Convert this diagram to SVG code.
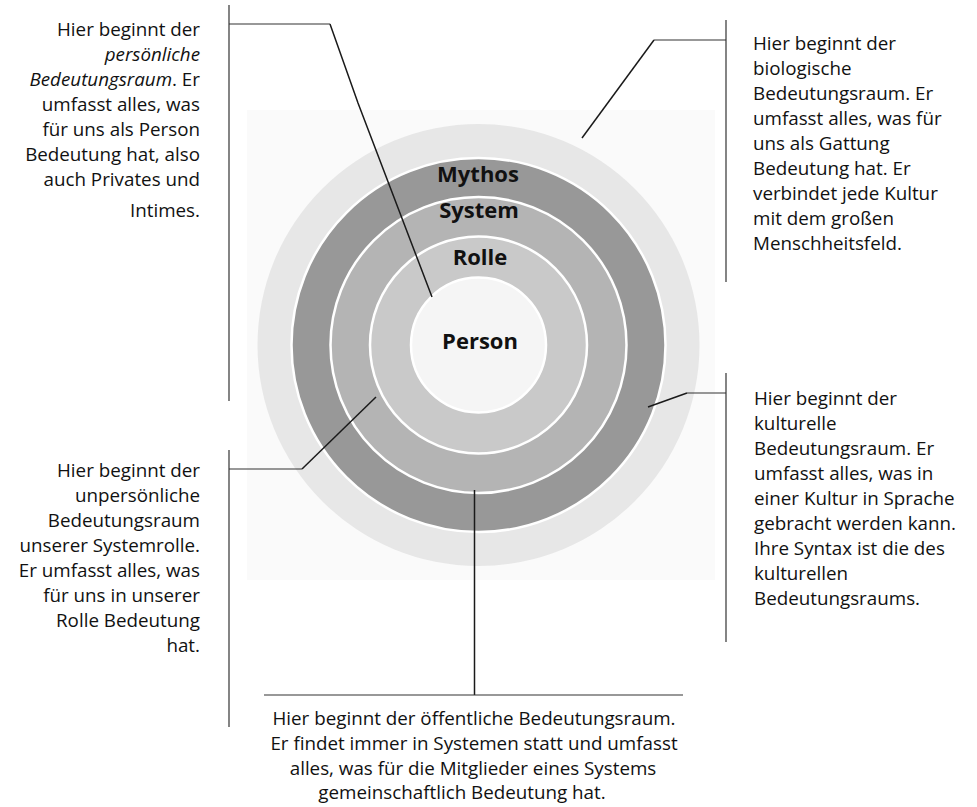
<svg xmlns="http://www.w3.org/2000/svg" width="977" height="807" viewBox="0 0 977 807">
<style>
.t{font-family:"Open Sans","Noto Sans","Liberation Sans",sans-serif;font-size:18.8px;fill:#111}
.r{text-anchor:end}
.c{text-anchor:middle}
.lab{font-family:"Open Sans","Liberation Sans",sans-serif;font-size:22px;font-weight:700;fill:#111;text-anchor:middle}
.ring{stroke:#fff;stroke-width:2.5}
.ln{fill:none;stroke:#333;stroke-width:1.2}
.dg{fill:none;stroke:#1a1a1a;stroke-width:1.5}
</style>
<rect width="977" height="807" fill="#fff"/>
<rect x="247" y="110" width="468" height="470" fill="#fafafa"/>
<g id="rings">
<circle id="outer" cx="478.5" cy="345" r="221" fill="#e7e7e7"/>
<circle id="mythos" class="ring" cx="478.5" cy="345" r="187" fill="#989898"/>
<circle id="system" class="ring" cx="478.5" cy="345" r="148" fill="#b4b4b4"/>
<circle id="rolle" class="ring" cx="478.5" cy="345" r="108.5" fill="#c9c9c9"/>
<circle id="person" class="ring" cx="478.5" cy="345" r="67.5" fill="#f5f5f5"/>
</g>
<g id="labels">
<text class="lab" x="478" y="182">Mythos</text>
<text class="lab" x="479" y="218">System</text>
<text class="lab" x="480" y="265">Rolle</text>
<text class="lab" x="480" y="349">Person</text>
</g>
<g id="connectors">
<polyline class="ln" points="229,5 229,401"/>
<polyline class="ln" points="229,24 330,24"/>
<polyline class="dg" points="330,24 358,103 432,297"/>
<polyline class="ln" points="726,20 726,282"/>
<polyline class="ln" points="726,40 654,40"/>
<polyline class="dg" points="654,40 582,138"/>
<polyline class="ln" points="726,373 726,642"/>
<polyline class="ln" points="726,393 687,393"/>
<polyline class="dg" points="687,393 648,407"/>
<polyline class="ln" points="229,450 229,727"/>
<polyline class="ln" points="229,469 302,469"/>
<polyline class="dg" points="302,469 376,397"/>
<polyline class="dg" points="474.5,490 474.5,695"/>
<polyline class="ln" points="264,695 683,695"/>
</g>
<g id="text-personal">
<text class="t r" x="200" y="36">Hier beginnt der</text>
<text class="t r" x="200" y="61" font-style="italic">persönliche</text>
<text class="t r" x="200" y="86"><tspan font-style="italic">Bedeutungsraum</tspan>. Er</text>
<text class="t r" x="200" y="111">umfasst alles, was</text>
<text class="t r" x="200" y="136">für uns als Person</text>
<text class="t r" x="200" y="161">Bedeutung hat, also</text>
<text class="t r" x="200" y="186">auch Privates und</text>
<text class="t r" x="200" y="217">Intimes.</text>
</g>
<g id="text-biological">
<text class="t" x="753" y="50">Hier beginnt der</text>
<text class="t" x="753" y="75">biologische</text>
<text class="t" x="753" y="100">Bedeutungsraum. Er</text>
<text class="t" x="753" y="125">umfasst alles, was für</text>
<text class="t" x="753" y="150">uns als Gattung</text>
<text class="t" x="753" y="175">Bedeutung hat. Er</text>
<text class="t" x="753" y="200">verbindet jede Kultur</text>
<text class="t" x="753" y="225">mit dem großen</text>
<text class="t" x="753" y="250">Menschheitsfeld.</text>
</g>
<g id="text-cultural">
<text class="t" x="754" y="405">Hier beginnt der</text>
<text class="t" x="754" y="430">kulturelle</text>
<text class="t" x="754" y="455">Bedeutungsraum. Er</text>
<text class="t" x="754" y="480">umfasst alles, was in</text>
<text class="t" x="754" y="505">einer Kultur in Sprache</text>
<text class="t" x="754" y="530">gebracht werden kann.</text>
<text class="t" x="754" y="555">Ihre Syntax ist die des</text>
<text class="t" x="754" y="580">kulturellen</text>
<text class="t" x="754" y="605">Bedeutungsraums.</text>
</g>
<g id="text-role">
<text class="t r" x="200" y="477">Hier beginnt der</text>
<text class="t r" x="200" y="502">unpersönliche</text>
<text class="t r" x="200" y="527">Bedeutungsraum</text>
<text class="t r" x="200" y="552">unserer Systemrolle.</text>
<text class="t r" x="200" y="577">Er umfasst alles, was</text>
<text class="t r" x="200" y="602">für uns in unserer</text>
<text class="t r" x="200" y="627">Rolle Bedeutung</text>
<text class="t r" x="200" y="652">hat.</text>
</g>
<g id="text-public">
<text class="t c" x="474" y="725">Hier beginnt der öffentliche Bedeutungsraum.</text>
<text class="t c" x="474" y="750">Er findet immer in Systemen statt und umfasst</text>
<text class="t c" x="473" y="775">alles, was für die Mitglieder eines Systems</text>
<text class="t c" x="462" y="799">gemeinschaftlich Bedeutung hat.</text>
</g>
</svg>
